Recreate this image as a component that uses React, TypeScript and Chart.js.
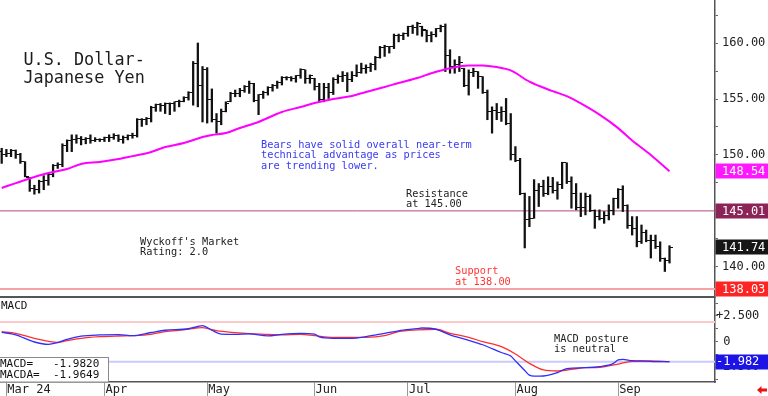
import React, { useEffect, useRef } from 'react';
import { Chart, registerables } from 'chart.js';

Chart.register(...registerables);

const MONO = '"DejaVu Sans Mono", monospace';

// Month tick positions (bar index of first trading day) and labels
const monthTickIdx = [1, 22, 44, 67, 87, 110, 132];
const monthTickLabels = ['Mar 24', 'Apr', 'May', 'Jun', 'Jul', 'Aug', 'Sep'];

// Daily OHLC bars, Feb 29 .. Sep 17
const opens = [
  150.3, 150.0, 150.1, 150.4, 150.0, 149.4, 148.0, 147.05, 146.9, 147.6,
  147.75, 148.3, 149.05, 149.15, 150.85, 151.25, 151.35, 151.45, 151.4, 151.5,
  151.3, 151.35, 151.35, 151.55, 151.55, 151.7, 151.35, 151.6, 151.75, 151.75,
  153.15, 153.2, 153.25, 154.2, 154.55, 154.4, 154.6, 154.6, 154.75, 154.8,
  155.15, 155.6, 158.2, 156.2, 157.6, 155.0, 153.2, 153.0, 153.9, 154.75,
  155.5, 155.5, 155.8, 156.1, 156.4, 154.9, 155.4, 155.6, 156.0, 156.2,
  156.5, 156.9, 156.95, 156.8, 157.1, 157.6, 156.8, 156.85, 156.1, 155.0,
  156.0, 155.6, 156.7, 157.0, 157.1, 156.7, 157.1, 157.4, 157.7, 157.8,
  158.1, 158.75, 159.6, 159.7, 159.65, 160.7, 160.7, 160.85, 161.45, 161.4,
  161.5, 161.15, 160.7, 160.8, 161.3, 161.5, 158.9, 157.9, 158.1, 157.75,
  156.2, 157.4, 157.45, 157.0, 155.6, 153.9, 154.0, 153.8, 153.9, 152.8,
  150.0, 149.5, 146.6, 144.2, 144.35, 146.8, 147.2, 146.6, 147.2, 146.8,
  147.4, 149.3, 147.6, 146.6, 145.3, 145.3, 146.3, 145.0, 144.5, 144.3,
  144.6, 145.0, 146.1, 146.9, 145.5, 143.7, 143.4, 142.3, 143.1, 142.4,
  142.4, 141.8, 140.8, 140.6,
];
const highs = [
  150.6, 150.5, 150.5, 150.45, 150.15, 149.4, 148.0, 147.3, 147.75, 148.15,
  148.35, 149.15, 149.3, 151.0, 151.35, 151.8, 151.8, 151.65, 151.55, 151.8,
  151.55, 151.45, 151.6, 151.8, 151.9, 151.8, 151.7, 151.8, 151.95, 153.25,
  153.25, 153.35, 154.35, 154.55, 154.6, 154.65, 154.65, 154.75, 154.9, 155.2,
  155.65, 158.35, 160.0, 157.9, 157.8, 155.9, 153.7, 154.1, 154.75, 155.6,
  155.8, 155.95, 156.2, 156.6, 156.4, 155.4, 155.7, 156.1, 156.3, 156.6,
  157.0, 157.0, 157.0, 157.1, 157.7, 157.6, 157.15, 156.85, 156.4, 156.4,
  156.4, 156.9, 157.15, 157.45, 157.35, 157.45, 158.05, 158.2, 158.05, 158.2,
  158.8, 159.7, 159.8, 159.7, 160.8, 160.8, 160.9, 161.5, 161.6, 161.85,
  161.5, 161.15, 161.0, 161.3, 161.6, 161.7, 159.4, 158.5, 158.8, 157.75,
  157.6, 157.75, 157.45, 157.0, 155.8, 154.3, 154.6, 154.3, 155.05, 153.7,
  150.75, 149.7, 146.6, 146.3, 147.8, 147.45, 147.75, 148.05, 148.0, 147.6,
  149.35, 149.3, 148.05, 147.45, 146.6, 146.6, 146.45, 145.1, 145.1, 144.95,
  145.55, 146.15, 147.0, 147.25, 145.55, 144.5, 144.5, 143.75, 143.3, 142.85,
  142.85, 142.25, 140.8, 141.9,
];
const lows = [
  149.25, 149.85, 149.85, 149.7, 149.25, 148.05, 146.75, 146.5, 146.6, 146.9,
  147.3, 148.05, 148.8, 148.95, 150.3, 150.3, 151.05, 150.9, 151.0, 151.05,
  151.2, 151.2, 151.2, 151.2, 151.4, 151.2, 151.05, 151.35, 151.5, 151.6,
  152.55, 152.7, 152.95, 153.9, 153.9, 153.7, 153.6, 153.9, 154.3, 154.75,
  154.9, 154.45, 154.3, 152.95, 152.85, 152.95, 151.95, 152.7, 153.85, 154.75,
  155.2, 155.2, 155.6, 155.5, 154.75, 153.6, 155.05, 155.35, 155.7, 155.95,
  156.25, 156.7, 156.6, 156.5, 156.85, 156.4, 156.4, 155.8, 154.75, 154.75,
  155.05, 155.4, 156.4, 156.55, 155.65, 156.55, 157.0, 157.3, 157.3, 157.45,
  157.6, 158.65, 158.8, 159.1, 159.5, 160.1, 160.3, 160.6, 160.85, 160.7,
  160.6, 160.1, 160.1, 160.55, 161.0, 157.45, 157.3, 157.3, 157.45, 156.1,
  155.35, 157.0, 155.95, 155.5, 153.15, 151.95, 153.15, 153.0, 152.7, 149.55,
  149.4, 146.45, 141.7, 143.6, 144.35, 145.4, 146.3, 146.45, 146.6, 146.05,
  147.0, 147.45, 145.25, 145.1, 144.5, 144.65, 144.95, 143.45, 144.2, 143.9,
  144.2, 144.65, 145.25, 144.95, 143.45, 142.85, 141.8, 142.1, 142.25, 140.8,
  141.65, 140.5, 139.6, 140.35,
];
const closes = [
  150.0, 150.1, 150.4, 150.0, 149.4, 148.1, 147.05, 146.9, 147.6, 147.75,
  148.3, 149.05, 149.15, 150.85, 151.25, 151.35, 151.45, 151.4, 151.5, 151.3,
  151.35, 151.35, 151.55, 151.55, 151.7, 151.35, 151.6, 151.75, 151.75, 153.15,
  153.2, 153.25, 154.2, 154.55, 154.4, 154.6, 154.6, 154.75, 154.8, 155.15,
  155.6, 158.2, 156.2, 157.6, 155.0, 153.2, 153.0, 153.9, 154.6, 155.5,
  155.5, 155.8, 156.1, 156.4, 154.9, 155.4, 155.6, 156.0, 156.2, 156.5,
  156.9, 156.95, 156.8, 157.1, 157.6, 156.8, 157.1, 156.1, 155.0, 156.0,
  155.6, 156.7, 157.0, 157.1, 156.7, 157.1, 157.4, 157.7, 157.8, 158.1,
  158.75, 159.6, 159.7, 159.65, 160.7, 160.7, 160.85, 161.45, 161.4, 161.7,
  161.2, 160.7, 160.8, 161.3, 161.5, 158.9, 157.9, 158.1, 158.3, 156.2,
  157.4, 157.5, 157.0, 155.6, 153.9, 154.0, 153.8, 153.9, 152.8, 150.0,
  149.5, 146.6, 144.2, 144.3, 146.8, 147.2, 146.6, 147.2, 146.8, 147.4,
  149.3, 147.6, 146.6, 145.3, 145.3, 146.3, 145.0, 144.5, 144.3, 144.6,
  145.0, 146.1, 146.9, 145.5, 143.7, 143.4, 142.3, 143.1, 142.4, 142.4,
  141.8, 140.8, 140.6, 141.74,
];

// Moving average (read at sampled bars)
const maIdx = [0, 5, 10, 14, 17, 21, 25, 28, 32, 35, 39, 43, 45, 48, 51, 55, 60, 64, 67, 71,
  75, 78, 82, 85, 89, 92, 96, 100, 103, 106, 109, 113, 118, 121, 124, 128, 132, 135, 139, 143];
const maVals = [147.05, 147.77, 148.39, 148.75, 149.2, 149.38, 149.64, 149.9, 150.27, 150.71,
  151.07, 151.6, 151.79, 151.96, 152.41, 152.95, 153.84, 154.29, 154.64, 155.0,
  155.27, 155.63, 156.07, 156.43, 156.88, 157.3, 157.75, 158.0, 158.0, 157.85,
  157.55, 156.55, 155.7, 155.25, 154.6, 153.6, 152.4, 151.3, 150.0, 148.54];

// MACD (blue) and signal MACDA (red)
const macdIdx = [0, 3, 7, 10, 12, 14, 17, 21, 25, 28, 32, 35, 40, 42, 43, 45, 47, 50, 53, 57,
  60, 64, 67, 68, 71, 75, 78, 82, 85, 89, 90, 93, 96, 100, 103, 107, 109, 110, 112, 113,
  114, 116, 119, 121, 125, 128, 131, 132, 133, 135, 138, 140, 143];
const macdVals = [0.9, 0.66, -0.05, -0.28, -0.1, 0.21, 0.52, 0.64, 0.67, 0.57,
  0.88, 1.1, 1.25, 1.47, 1.55, 1.1, 0.72, 0.7, 0.74, 0.55,
  0.7, 0.8, 0.72, 0.45, 0.31, 0.31, 0.47, 0.8, 1.05, 1.26,
  1.32, 1.2, 0.64, 0.12, -0.32, -1.08, -1.42, -1.9, -2.85, -3.3,
  -3.4, -3.38, -3.06, -2.65, -2.57, -2.47, -2.14, -1.8, -1.75, -1.88,
  -1.92, -1.98, -1.982];
const sigIdx = [0, 3, 7, 12, 14, 17, 21, 25, 28, 32, 35, 39, 43, 46, 50, 53, 57, 60, 64, 67,
  71, 75, 78, 82, 85, 89, 93, 96, 100, 103, 107, 110, 113, 116, 119, 122, 125, 128, 132, 135,
  139, 143];
const sigVals = [0.96, 0.8, 0.31, -0.08, 0.08, 0.31, 0.47, 0.54, 0.57, 0.7,
  0.96, 1.13, 1.35, 1.06, 0.87, 0.77, 0.7, 0.64, 0.7, 0.57,
  0.41, 0.41, 0.41, 0.57, 0.96, 1.13, 1.2, 0.8, 0.41, -0.02,
  -0.51, -1.23, -2.14, -2.79, -2.89, -2.73, -2.57, -2.53, -2.21, -1.94,
  -1.91, -1.9649];

// Reference levels
const resistanceLevel = 145.01;
const supportLevel = 138.03;
const macdUpperLevel = 1.9;
const macdLast = macdVals[macdVals.length - 1];
const sigLast = sigVals[sigVals.length - 1];
const maLast = maVals[maVals.length - 1];
const lastClose = closes[closes.length - 1];

const hLine = (v: number) => [{ x: -10, y: v }, { x: 200, y: v }];

const zeroPad = (s: any) => {
  s.paddingTop = 0;
  s.paddingBottom = 0;
  s.paddingLeft = 0;
  s.paddingRight = 0;
};

const decorPlugin = {
  id: 'decor',
  afterDraw(chart: any) {
    const { ctx, chartArea, scales } = chart;
    const y = scales.y;
    const ym = scales.ym;
    ctx.save();
    // panel separator
    ctx.strokeStyle = '#555';
    ctx.lineWidth = 2;
    ctx.beginPath();
    ctx.moveTo(chartArea.left, ym.top);
    ctx.lineTo(chartArea.right, ym.top);
    ctx.stroke();

    // value boxes on right axis
    const boxes = [
      { s: y, v: maLast, bg: '#ff18ff', t: maLast.toFixed(2), tx: 722 },
      { s: y, v: resistanceLevel, bg: '#8c2458', t: resistanceLevel.toFixed(2), tx: 722 },
      { s: y, v: lastClose, bg: '#161616', t: lastClose.toFixed(2), tx: 722 },
      { s: y, v: supportLevel, bg: '#ff2424', t: supportLevel.toFixed(2), tx: 722 },
      { s: ym, v: macdLast, bg: '#1c14e6', t: macdLast.toFixed(3), tx: 716 },
    ];
    ctx.font = `12px ${MONO}`;
    ctx.textBaseline = 'middle';
    ctx.textAlign = 'left';
    for (const b of boxes) {
      const py = b.s.getPixelForValue(b.v);
      ctx.fillStyle = b.bg;
      ctx.fillRect(chartArea.right + 0.5, Math.round(py) - 7.5, chart.width - chartArea.right, 15);
      ctx.fillStyle = '#ffffff';
      ctx.fillText(b.t, b.tx, py + 0.5);
    }

    ctx.textBaseline = 'alphabetic';
    // Title
    ctx.fillStyle = '#1c1c1c';
    ctx.font = `16.8px ${MONO}`;
    ctx.fillText('U.S. Dollar-', 23.5, 65);
    ctx.fillText('Japanese Yen', 23.5, 83);

    ctx.font = `10.3px ${MONO}`;
    ctx.fillStyle = '#3a3af2';
    ctx.fillText('Bears have solid overall near-term', 261, 147.5);
    ctx.fillText('technical advantage as prices', 261, 158);
    ctx.fillText('are trending lower.', 261, 168.5);

    ctx.fillStyle = '#222';
    ctx.fillText('Resistance', 406, 197);
    ctx.fillText('at 145.00', 406, 207);
    ctx.fillText("Wyckoff's Market", 140, 244.5);
    ctx.fillText('Rating: 2.0', 140, 255);
    ctx.fillText('MACD posture', 554, 341.8);
    ctx.fillText('is neutral', 554, 351.8);

    ctx.fillStyle = '#ff3636';
    ctx.fillText('Support', 455, 274);
    ctx.fillText('at 138.00', 455, 284.5);

    ctx.fillStyle = '#111';
    ctx.font = `11px ${MONO}`;
    ctx.fillText('MACD', 1, 309);

    // info box
    ctx.fillStyle = '#fff';
    ctx.fillRect(0, 357, 108.5, ym.bottom - 357);
    ctx.strokeStyle = '#8a8a8a';
    ctx.lineWidth = 1;
    ctx.strokeRect(-0.5, 357.5, 109, ym.bottom - 357.5);
    ctx.fillStyle = '#111';
    ctx.fillText('MACD=   ' + macdLast.toFixed(4), 0, 366.5);
    ctx.fillText('MACDA=  ' + sigLast.toFixed(4), 0, 377.5);

    // small red arrow bottom right
    ctx.fillStyle = '#ee1111';
    ctx.beginPath();
    ctx.moveTo(757, 390);
    ctx.lineTo(761.5, 386);
    ctx.lineTo(761.5, 388.5);
    ctx.lineTo(767, 388.5);
    ctx.lineTo(767, 391.5);
    ctx.lineTo(761.5, 391.5);
    ctx.lineTo(761.5, 394);
    ctx.closePath();
    ctx.fill();
    ctx.restore();
  },
};

function makeTick(left: boolean) {
  const c = document.createElement('canvas');
  c.width = 7;
  c.height = 1;
  const g = c.getContext('2d')!;
  g.fillStyle = '#111';
  g.fillRect(left ? 0 : 4, 0, 3, 1);
  return c;
}

export default function App() {
  const ref = useRef<HTMLCanvasElement>(null);
  useEffect(() => {
    const canvas = ref.current;
    if (!canvas) return;
    const openImg = makeTick(true);
    const closeImg = makeTick(false);

    const chart = new Chart(canvas, {
      type: 'line',
      data: {
        datasets: [
          { type: 'line', data: hLine(resistanceLevel), borderColor: '#b04c7c', borderWidth: 1, pointRadius: 0, yAxisID: 'y', order: 10 },
          { type: 'line', data: hLine(supportLevel), borderColor: '#f5a3a3', borderWidth: 2, pointRadius: 0, yAxisID: 'y', order: 10 },
          { type: 'line', data: hLine(macdUpperLevel), borderColor: '#fbcaca', borderWidth: 2, pointRadius: 0, yAxisID: 'ym', order: 10 },
          { type: 'line', data: hLine(macdLast), borderColor: '#cacafb', borderWidth: 2, pointRadius: 0, yAxisID: 'ym', order: 10 },
          {
            type: 'bar',
            data: highs.map((h, i) => ({ x: i, y: [lows[i], h] })),
            backgroundColor: '#111',
            barThickness: 1.6,
            grouped: false,
            borderWidth: 0,
            yAxisID: 'y',
            order: 5,
          },
          { type: 'line', data: opens.map((o, i) => ({ x: i, y: o })), showLine: false, pointStyle: openImg, pointRadius: 3, yAxisID: 'y', order: 4 },
          { type: 'line', data: closes.map((c, i) => ({ x: i, y: c })), showLine: false, pointStyle: closeImg, pointRadius: 3, yAxisID: 'y', order: 4 },
          {
            type: 'line',
            data: maIdx.map((x, k) => ({ x, y: maVals[k] })),
            borderColor: '#ff00ff',
            borderWidth: 2,
            pointRadius: 0,
            cubicInterpolationMode: 'monotone',
            yAxisID: 'y',
            order: 1,
          },
          {
            type: 'line',
            data: macdIdx.map((x, k) => ({ x, y: macdVals[k] })),
            borderColor: '#2e2eff',
            borderWidth: 1.3,
            pointRadius: 0,
            cubicInterpolationMode: 'monotone',
            yAxisID: 'ym',
            order: 1,
          },
          {
            type: 'line',
            data: sigIdx.map((x, k) => ({ x, y: sigVals[k] })),
            borderColor: '#ff2e2e',
            borderWidth: 1.3,
            pointRadius: 0,
            cubicInterpolationMode: 'monotone',
            yAxisID: 'ym',
            order: 1,
          },
        ] as any,
      },
      options: {
        animation: false,
        responsive: false,
        devicePixelRatio: 1,
        events: [],
        layout: { padding: 0, autoPadding: false },
        plugins: { legend: { display: false }, tooltip: { enabled: false } },
        scales: {
          x: {
            type: 'linear',
            min: -0.364,
            max: 152.74,
            offset: false,
            afterBuildTicks: (s: any) => {
              s.ticks = monthTickIdx.map((v) => ({ value: v }));
            },
            afterFit: (s: any) => {
              s.height = 14;
              zeroPad(s);
            },
            ticks: {
              autoSkip: false,
              maxRotation: 0,
              align: 'start',
              labelOffset: 1,
              padding: -13,
              color: '#222',
              font: { family: MONO, size: 12 },
              callback: (v: any) => {
                const k = monthTickIdx.indexOf(Number(v));
                return k >= 0 ? monthTickLabels[k] : '';
              },
            },
            grid: { drawOnChartArea: false, drawTicks: true, tickLength: 14, color: '#999', tickColor: '#999', offset: false },
            border: { display: true, color: '#555', width: 1.5 },
          },
          y: {
            type: 'linear',
            position: 'right',
            stack: 'panels',
            stackWeight: 297,
            min: 137.32,
            max: 163.84,
            afterFit: (s: any) => {
              s.width = 53;
              zeroPad(s);
            },
            ticks: {
              autoSkip: false,
              stepSize: 2.5,
              includeBounds: false,
              padding: 4,
              color: '#222',
              font: { family: MONO, size: 12 },
              callback: (v: any) => (Number(v) % 5 === 0 ? Number(v).toFixed(2) : ''),
            },
            grid: { drawOnChartArea: false, tickLength: 3, color: '#666', tickColor: '#666' },
            border: { display: true, color: '#555', width: 1.5 },
          },
          ym: {
            type: 'linear',
            position: 'right',
            stack: 'panels',
            stackWeight: 85,
            min: -3.97,
            max: 4.36,
            afterFit: (s: any) => {
              s.width = 53;
              zeroPad(s);
            },
            ticks: {
              autoSkip: false,
              stepSize: 1.25,
              includeBounds: false,
              padding: -2,
              color: '#222',
              font: { family: MONO, size: 12 },
              callback: (v: any) => {
                const n = Number(v);
                if (n === 0) return ' 0';
                if (Math.abs(n) % 2.5 !== 0) return '';
                return (n > 0 ? '+' : '') + n.toFixed(3);
              },
            },
            grid: { drawOnChartArea: false, tickLength: 3, color: '#666', tickColor: '#666' },
            border: { display: true, color: '#555', width: 1.5 },
          },
        },
      } as any,
      plugins: [decorPlugin],
    });
    return () => chart.destroy();
  }, []);

  return (
    <div style={{ position: 'fixed', left: 0, top: 0, width: 768, height: 396, background: '#fff' }}>
      <canvas ref={ref} width={768} height={396} style={{ display: 'block', width: 768, height: 396 }} />
    </div>
  );
}
